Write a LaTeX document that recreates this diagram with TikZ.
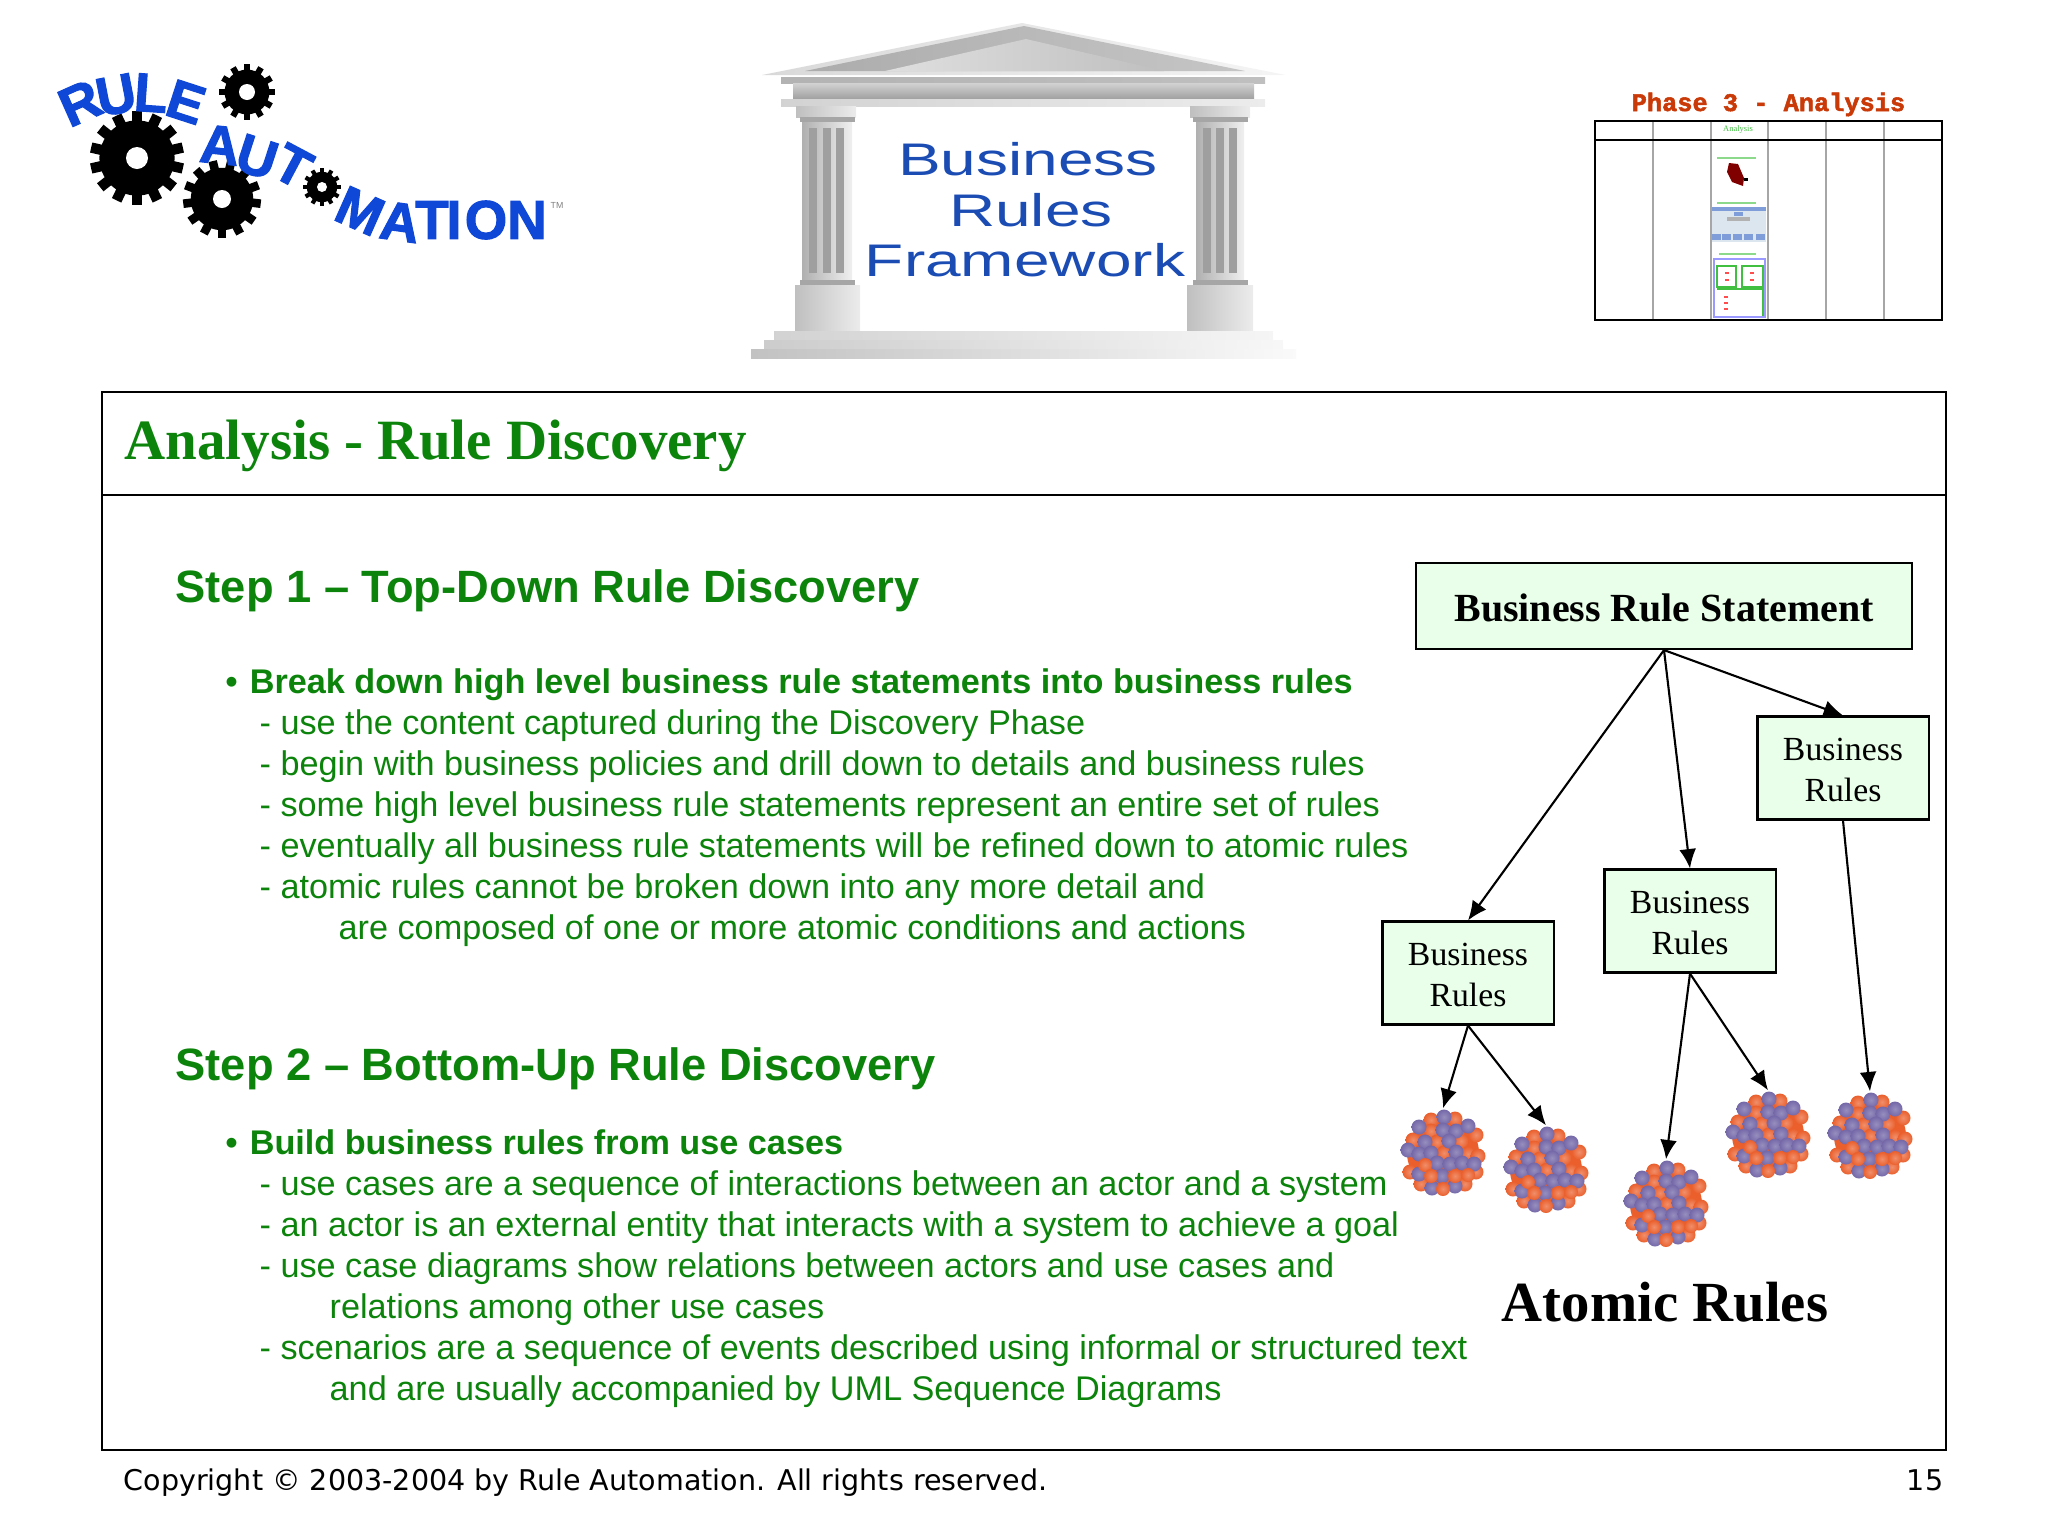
\documentclass[tikz,border=0pt]{standalone}
\usepackage{fontspec}
\setmainfont{Liberation Serif}
\setsansfont{Liberation Sans}
\setmonofont{Liberation Mono}
\newfontfamily\copyfont{DejaVu Sans}
\newfontfamily\logofont[BoldFeatures={FakeBold=2}]{Liberation Sans}
\newfontfamily\phasefont[BoldFeatures={FakeBold=2}]{Liberation Mono}
\usetikzlibrary{arrows.meta}

\definecolor{slidegreen}{HTML}{0C840C}
\definecolor{boxgreen}{HTML}{E9FFE9}
\definecolor{logoblue}{HTML}{0F47D6}
\definecolor{templeblue}{HTML}{1B4CB4}
\definecolor{phasered}{HTML}{C93A08}
\definecolor{atompurple}{HTML}{7468A8}
\definecolor{atomorange}{HTML}{EA5F2C}
\definecolor{thumbpale}{HTML}{DCE6EE}
\definecolor{thumbblue}{HTML}{7F9DD8}

\newcommand{\boxstrut}{\rule{0pt}{7.4pt}}
\newcommand{\bulletgap}{•\hspace{0.354em}}

\tikzset{
    linetext/.style={anchor=base west, inner sep=0pt, text=slidegreen, font=\sffamily\fontsize{9.73}{11}\selectfont},
    boldtext/.style={linetext, font=\sffamily\bfseries\fontsize{9.73}{11}\selectfont},
    steptext/.style={linetext, font=\sffamily\bfseries\fontsize{12.88}{15}\selectfont},
    rulesbox/.style={draw, line width=0.6pt, fill=boxgreen, minimum width=1.71cm, minimum height=1.03cm, inner sep=0pt,
        align=center, font=\fontsize{9.6}{11.6}\selectfont},
    atomspot/.style={circle, minimum size=0.88cm, inner sep=0pt},
    ruleedge/.style={-{Latex[length=5.5pt,width=4.8pt]}, line width=0.6pt},
    logoletter/.style={inner sep=0pt, text=logoblue, font=\logofont\bfseries\fontsize{15.5}{15}\selectfont},
    templetext/.style={inner sep=0pt, anchor=base, text=templeblue, xscale=1.4, font=\sffamily\fontsize{13}{14}\selectfont},
    stone/.style={left color=gray!62, right color=gray!12},
    stonepale/.style={left color=gray!50, right color=gray!15},
    flute/.style={fill=gray!75},
    orangeball/.style={inner color=atomorange!70!white, outer color=atomorange},
    purpleball/.style={inner color=atompurple!75!white, outer color=atompurple},
    atomball/.pic={
        \fill[atomorange] (0,0) circle (36);
        \foreach \bx/\by in {-12/-33,12/-34,-12/-22,-30/-13,-6/-11,18/-12,33/-18,1/0,25/1,35/3,-33/19,33/19,22/31,-22/31}
            \shade[orangeball] (\bx,\by) circle (7.5);
        \foreach \bx/\by in {1/-36,-24/-26,0/-23,13/-22,25/-27,-18/-11,6/-12,-35/-3,-24/1,-12/0,13/-1,-6/10,7/11,19/10,31/11,-24/21,-1/23,-11/35,12/33}
            \shade[purpleball] (\bx,\by) circle (7.5);
        \foreach \bx/\by in {-18/12,-12/23,12/23,25/22,0/36}
            \shade[orangeball] (\bx,\by) circle (7);
    }
}

% one gear wheel: x, y, outer radius, number of teeth, hole radius
\newcommand{\gearwheel}[5]{
    \begin{scope}[shift={(#1,#2)}]
        \fill[black] (0,0) circle (#3*0.8);
        \foreach \k in {1,...,#4}
            \fill[black, rotate=\k*360/#4] (-#3*0.11,0) rectangle (#3*0.11,#3);
        \fill[white] (0,0) circle (#5);
    \end{scope}
}

\begin{document}
\begin{tikzpicture}[x=0.01cm, y=-0.01cm]
\useasboundingbox (0,0) rectangle (2048,1536);

% Logo gears
\gearwheel{137}{158}{47}{14}{11}
\gearwheel{222}{199}{39}{13}{9}
\gearwheel{247}{92}{28}{12}{8}
\gearwheel{322}{187}{19}{12}{5}

% Logo letters
\node[logoletter, rotate=24] (logoR) at (80,103) {R};
\node[logoletter, rotate=11] (logoU) at (116,95) {U};
\node[logoletter, rotate=-4] (logoL) at (151,93) {L};
\node[logoletter, rotate=-18] (logoE) at (186,102) {E};
\node[logoletter, rotate=-6] (logoA) at (220,145) {A};
\node[logoletter, rotate=-18] (logoUb) at (257,157) {U};
\node[logoletter, rotate=-28] (logoT) at (293,166) {T};
\node[logoletter, rotate=-24] (logoM) at (360,211) {M};
\node[logoletter, rotate=-8] (logoAb) at (400,222) {A};
\node[logoletter] (logoTb) at (432,220) {T};
\node[logoletter] (logoI) at (454,220) {I};
\node[logoletter] (logoO) at (486,220) {O};
\node[logoletter] (logoN) at (527,220) {N};
\node[inner sep=0pt, text=gray, font=\sffamily\fontsize{2.5}{3}\selectfont] (logoTM) at (557,205) {TM};

% Temple roof
\shade[left color=gray!30, right color=gray!8] (762,75) -- (1022,23) -- (1286,75) -- cycle;
\shade[left color=gray!65, right color=gray!45] (805,71) -- (1024,26) -- (1245,71) -- cycle;
\shade[left color=gray!25, right color=gray!50] (885,71) -- (1026,39) -- (1164,71) -- cycle;
\shade[left color=gray!60, right color=gray!50] (781,77) rectangle (1265,83);
\shade[top color=gray!35, bottom color=gray!75] (793,83) rectangle (1254,99);
\shade[left color=gray!35, right color=gray!15] (781,99) rectangle (1265,106);

% Left column
\shade[stonepale] (796,106) rectangle (856,117);
\fill[gray!70] (800,117) rectangle (855,122);
\shade[stone] (802,122) rectangle (852,280);
\foreach \fx in {809,823,836}
    \fill[flute] (\fx,128) rectangle ++(8,145);
\fill[gray!70] (800,280) rectangle (855,285);
\shade[stonepale] (795,285) rectangle (860,331);

% Right column
\shade[stonepale] (1190,106) rectangle (1250,117);
\fill[gray!70] (1193,117) rectangle (1248,122);
\shade[stone] (1196,122) rectangle (1244,280);
\foreach \fx in {1203,1216,1229}
    \fill[flute] (\fx,128) rectangle ++(8,145);
\fill[gray!70] (1193,280) rectangle (1248,285);
\shade[stonepale] (1187,285) rectangle (1253,331);

% Temple steps
\shade[left color=gray!35, right color=gray!8] (774,331) rectangle (1273,340);
\shade[left color=gray!40, right color=gray!6] (764,340) rectangle (1283,349);
\shade[left color=gray!48, right color=gray!4] (751,349) rectangle (1296,358);

% Temple lettering
\node[templetext] (templeA) at (1028,175) {Business};
\node[templetext] (templeB) at (1031,226) {Rules};
\node[templetext] (templeC) at (1025,276) {Framework};

% Phase table
\node[anchor=base west, inner sep=0pt, text=phasered, font=\phasefont\bfseries\fontsize{7.2}{8}\selectfont] (phase) at (1631,111) {Phase 3 - Analysis};
\foreach \vx in {1653,1711,1768,1826,1884}
    \draw[gray!70, line width=0.5pt] (\vx,121) -- (\vx,320);
\draw[line width=0.6pt] (1595,121) rectangle (1942,320);
\draw[line width=0.6pt] (1595,140) -- (1942,140);
\node[inner sep=0pt, text=green!50!gray, font=\fontsize{2.4}{3}\selectfont] (phasecol) at (1738,129) {Analysis};
\draw[green!50!gray!60, line width=0.5pt] (1717,158) -- (1756,158);
\fill[red!50!black] (1729,163) -- (1738,164) -- (1744,178) -- (1743,186) -- (1732,182) -- (1727,172) -- cycle;
\fill[black] (1744,178) rectangle (1748,181);
\draw[green!50!gray!60, line width=0.5pt] (1717,203) -- (1756,203);
\fill[thumbpale] (1712,207) rectangle (1766,242);
\fill[thumbblue] (1712,207) rectangle (1766,211);
\fill[thumbblue] (1734,212) rectangle (1743,216);
\fill[gray!60] (1727,217) rectangle (1750,221);
\foreach \bx in {1712,1722,1733,1744,1756}
    \fill[thumbblue] (\bx,234) rectangle ++(9,6);
\draw[green!50!gray!60, line width=0.5pt] (1719,254) -- (1756,254);
\draw[blue!40, line width=0.7pt] (1714,259) rectangle (1765,317);
\draw[green!50!gray, line width=0.7pt] (1717,266) rectangle (1736,287);
\draw[green!50!gray, line width=0.7pt] (1742,266) rectangle (1763,287);
\draw[green!50!gray, line width=0.7pt] (1717,289) -- (1763,289) -- (1763,316);
\foreach \rx/\ry in {1725/272,1725/279,1750/272,1750/279,1724/296,1724/302,1724/308}
    \fill[red!70] (\rx,\ry) rectangle ++(4,1.5);

% Slide frame
\draw[line width=0.6pt] (102,392) rectangle (1946,1450);
\draw[line width=0.6pt] (102,495) -- (1946,495);

% Slide title
\node[anchor=base west, inner sep=0pt, text=slidegreen, font=\bfseries\fontsize{16.2}{18}\selectfont] (title) at (124,459) {Analysis - Rule Discovery};

% Step 1 text
\node[steptext] (stepA) at (175,602) {Step 1 – Top-Down Rule Discovery};
\node[boldtext] (stepAhead) at (225,693) {\bulletgap Break down high level business rule statements into business rules};
\node[linetext] (stepAa) at (259,734) {- use the content captured during the Discovery Phase};
\node[linetext] (stepAb) at (259,775) {- begin with business policies and drill down to details and business rules};
\node[linetext] (stepAc) at (259,816) {- some high level business rule statements represent an entire set of rules};
\node[linetext] (stepAd) at (259,857) {- eventually all business rule statements will be refined down to atomic rules};
\node[linetext] (stepAe) at (259,898) {- atomic rules cannot be broken down into any more detail and};
\node[linetext] (stepAf) at (338,939) {are composed of one or more atomic conditions and actions};

% Step 2 text
\node[steptext] (stepB) at (175,1080) {Step 2 – Bottom-Up Rule Discovery};
\node[boldtext] (stepBhead) at (225,1154) {\bulletgap Build business rules from use cases};
\node[linetext] (stepBa) at (259,1195) {- use cases are a sequence of interactions between an actor and a system};
\node[linetext] (stepBb) at (259,1236) {- an actor is an external entity that interacts with a system to achieve a goal};
\node[linetext] (stepBc) at (259,1277) {- use case diagrams show relations between actors and use cases and};
\node[linetext] (stepBd) at (329,1318) {relations among other use cases};
\node[linetext] (stepBe) at (259,1359) {- scenarios are a sequence of events described using informal or structured text};
\node[linetext] (stepBf) at (329,1400) {and are usually accompanied by UML Sequence Diagrams};

% Rule boxes
\node[draw, line width=0.6pt, fill=boxgreen, minimum width=4.96cm, minimum height=0.86cm, inner sep=0pt,
    execute at begin node={\rule{0pt}{9pt}}, font=\bfseries\fontsize{11.35}{13}\selectfont] (statement) at (1664,606) {Business Rule Statement};
\node[rulesbox] (rulesA) at (1468,973) {\boxstrut Business\\Rules};
\node[rulesbox] (rulesB) at (1690,921) {\boxstrut Business\\Rules};
\node[rulesbox] (rulesC) at (1843,768) {\boxstrut Business\\Rules};

% Atoms
\node[atomspot] (atomA) at (1443,1153) {};
\node[atomspot] (atomB) at (1546,1170) {};
\node[atomspot] (atomC) at (1666,1204) {};
\node[atomspot] (atomD) at (1768,1135) {};
\node[atomspot] (atomE) at (1870,1136) {};
\foreach \spot in {atomA,atomB,atomC,atomD,atomE}
    \pic at (\spot) {atomball};

\node[inner sep=0pt, anchor=base, font=\bfseries\fontsize{16.13}{19}\selectfont] (atomic) at (1665,1321) {Atomic Rules};

% Connectors
\draw[ruleedge] (statement.south) -- (rulesA.north);
\draw[ruleedge] (statement.south) -- (rulesB.north);
\draw[ruleedge] (statement.south) -- (rulesC.north);
\draw[ruleedge] (rulesA.south) -- (atomA.north);
\draw[ruleedge] (rulesA.south) -- (atomB.north);
\draw[ruleedge] (rulesB.south) -- (atomC.north);
\draw[ruleedge] (rulesB.south) -- (atomD.north);
\draw[ruleedge] (rulesC.south) -- (atomE.north);

% Footer
\node[anchor=base west, inner sep=0pt, font=\copyfont\fontsize{8.12}{10}\selectfont] (copyright) at (123,1490) {Copyright © 2003-2004 by Rule Automation. All rights reserved.};
\node[anchor=base east, inner sep=0pt, font=\copyfont\fontsize{8.12}{10}\selectfont] (pagenum) at (1944,1490) {15};

\end{tikzpicture}
\end{document}
